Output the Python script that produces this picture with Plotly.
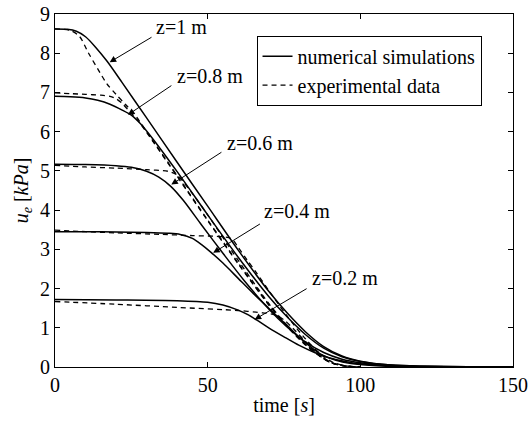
import plotly.graph_objects as go

# ---------------- data ----------------
labels = ["z=1 m", "z=0.8 m", "z=0.6 m", "z=0.4 m", "z=0.2 m"]

# numerical simulations
num_t_z10 = [0, 4, 7, 10, 13, 17, 22, 30, 40, 50, 60, 70, 76, 82, 88, 94, 100, 110, 120, 135, 150]
num_u_z10 = [8.62, 8.61, 8.56, 8.42, 8.18, 7.8, 7.25, 6.35, 5.22, 4.1, 2.98, 1.93, 1.38, 0.9, 0.52, 0.28, 0.15, 0.05, 0.02, 0.005, 0.0]

num_t_z08 = [0, 5, 10, 14, 18, 22, 25, 28, 32, 40, 50, 60, 70, 76, 82, 88, 94, 100, 110, 120, 135, 150]
num_u_z08 = [6.9, 6.89, 6.86, 6.8, 6.7, 6.55, 6.42, 6.2, 5.82, 4.98, 3.88, 2.8, 1.8, 1.28, 0.83, 0.48, 0.26, 0.14, 0.05, 0.02, 0.005, 0.0]

num_t_z06 = [0, 10, 20, 25, 30, 34, 38, 42, 48, 55, 62, 70, 76, 82, 88, 94, 100, 110, 120, 135, 150]
num_u_z06 = [5.17, 5.16, 5.13, 5.09, 4.99, 4.84, 4.6, 4.25, 3.62, 2.9, 2.2, 1.48, 1.02, 0.64, 0.37, 0.2, 0.11, 0.04, 0.015, 0.004, 0.0]

num_t_z04 = [0, 10, 20, 30, 37, 41, 45, 48, 51, 55, 60, 65, 70, 76, 82, 87, 92, 97, 104, 112, 125, 150]
num_u_z04 = [3.45, 3.45, 3.44, 3.43, 3.41, 3.38, 3.28, 3.12, 2.93, 2.65, 2.26, 1.87, 1.5, 1.06, 0.62, 0.33, 0.17, 0.09, 0.04, 0.015, 0.004, 0.0]

num_t_z02 = [0, 20, 40, 50, 55, 60, 63, 66, 70, 75, 80, 85, 90, 95, 100, 110, 120, 135, 150]
num_u_z02 = [1.72, 1.71, 1.69, 1.65, 1.58, 1.45, 1.34, 1.2, 1.0, 0.77, 0.55, 0.37, 0.23, 0.14, 0.08, 0.03, 0.01, 0.003, 0.0]

# experimental data
exp_t_z10 = [0, 5, 8, 11, 14, 17, 20, 23, 26, 30, 40, 50, 60, 70, 76, 82, 87, 91, 95, 100]
exp_u_z10 = [8.62, 8.58, 8.43, 8.0, 7.6, 7.22, 6.95, 6.7, 6.45, 6.0, 4.88, 3.75, 2.65, 1.6, 1.05, 0.58, 0.28, 0.1, 0.03, 0.0]

exp_t_z08 = [0, 5, 10, 15, 18, 20, 22, 24, 27, 30, 40, 50, 60, 70, 76, 82, 87, 91, 95, 100]
exp_u_z08 = [6.99, 6.97, 6.95, 6.93, 6.9, 6.84, 6.72, 6.55, 6.3, 5.98, 4.86, 3.73, 2.63, 1.58, 1.03, 0.56, 0.26, 0.09, 0.03, 0.0]

exp_t_z06 = [0, 10, 20, 30, 37, 40, 42, 45, 50, 60, 70, 76, 82, 87, 91, 95, 100]
exp_u_z06 = [5.14, 5.1, 5.07, 5.03, 4.99, 4.9, 4.72, 4.42, 3.88, 2.72, 1.62, 1.06, 0.58, 0.27, 0.1, 0.03, 0.0]

exp_t_z04 = [0, 10, 20, 35, 45, 55, 58, 60, 63, 66, 70, 76, 82, 87, 91, 95, 100]
exp_u_z04 = [3.49, 3.45, 3.42, 3.38, 3.35, 3.32, 3.26, 3.05, 2.72, 2.4, 1.95, 1.3, 0.72, 0.33, 0.12, 0.03, 0.0]

exp_t_z02 = [0, 20, 40, 60, 68, 72, 75, 78, 82, 86, 90, 94, 98]
exp_u_z02 = [1.67, 1.6, 1.52, 1.44, 1.38, 1.33, 1.2, 0.98, 0.65, 0.33, 0.12, 0.03, 0.0]

x_ticks = [0, 50, 100, 150]
y_ticks = [0, 1, 2, 3, 4, 5, 6, 7, 8, 9]

num_series = [(num_t_z10, num_u_z10), (num_t_z08, num_u_z08), (num_t_z06, num_u_z06),
              (num_t_z04, num_u_z04), (num_t_z02, num_u_z02)]
exp_series = [(exp_t_z10, exp_u_z10), (exp_t_z08, exp_u_z08), (exp_t_z06, exp_u_z06),
              (exp_t_z04, exp_u_z04), (exp_t_z02, exp_u_z02)]

# ---------------- figure ----------------
FONT = "Liberation Serif"
FS = 20
fig = go.Figure()

for i, (t, u) in enumerate(num_series):
    fig.add_trace(go.Scatter(
        x=t, y=u, mode="lines", name="numerical simulations",
        legendgroup="num", showlegend=(i == 0),
        line=dict(color="black", width=1.5, shape="spline", smoothing=0.8)))

for i, (t, u) in enumerate(exp_series):
    fig.add_trace(go.Scatter(
        x=t, y=u, mode="lines", name="experimental data",
        legendgroup="exp", showlegend=(i == 0),
        line=dict(color="black", width=1.3, dash="5px,4px", shape="spline", smoothing=0.8)))

# label text positions and arrow tail/head positions (data units)
label_pos = [(41.3, 8.68), (50.7, 7.41), (67.3, 5.72), (79.2, 3.99), (94.9, 2.28)]
arrow_tail = [(32.1, 8.43), (38.6, 7.2), (55.0, 5.50), (67.6, 3.67), (82.9, 2.02)]
arrow_head = [(17.9, 7.77), (23.9, 6.43), (38.1, 4.65), (51.8, 2.91), (65.4, 1.21)]

for lab, (lx, ly), (ax, ay), (hx, hy) in zip(labels, label_pos, arrow_tail, arrow_head):
    fig.add_annotation(x=lx, y=ly, text=lab, showarrow=False,
                       font=dict(family=FONT, size=FS, color="black"))
    fig.add_annotation(x=hx, y=hy, ax=ax, ay=ay, axref="x", ayref="y", text="",
                       showarrow=True, arrowhead=2, arrowsize=1.3, arrowwidth=1,
                       arrowcolor="black")

axis_common = dict(showline=True, linecolor="black", linewidth=1, mirror="allticks",
                   ticks="inside", ticklen=5, tickcolor="black", showgrid=False,
                   zeroline=False, automargin=False,
                   tickfont=dict(family=FONT, size=FS, color="black"))

fig.update_xaxes(range=[0, 150], tickvals=x_ticks,
                 title=dict(text="time [<i>s</i>]", font=dict(family=FONT, size=FS, color="black"),
                            standoff=2),
                 **axis_common)
fig.update_yaxes(range=[0, 9], tickvals=y_ticks,
                 title=dict(text="<i>u</i><sub><i>e</i></sub> [<i>kPa</i>]",
                            font=dict(family=FONT, size=FS, color="black"), standoff=6),
                 **axis_common)

fig.update_layout(
    width=530, height=426,
    margin=dict(l=55, r=17, t=14, b=59, autoexpand=False),
    paper_bgcolor="white", plot_bgcolor="white",
    font=dict(family=FONT, size=FS, color="black"),
    legend=dict(x=0.44, y=0.9386, xanchor="left", yanchor="top",
                bordercolor="black", borderwidth=1, bgcolor="white",
                font=dict(family=FONT, size=FS, color="black"),
                tracegroupgap=0, itemwidth=30),
    showlegend=True,
)

fig.write_html("out.html", config={"displayModeBar": False},
               post_script="document.body.style.margin='0';")
